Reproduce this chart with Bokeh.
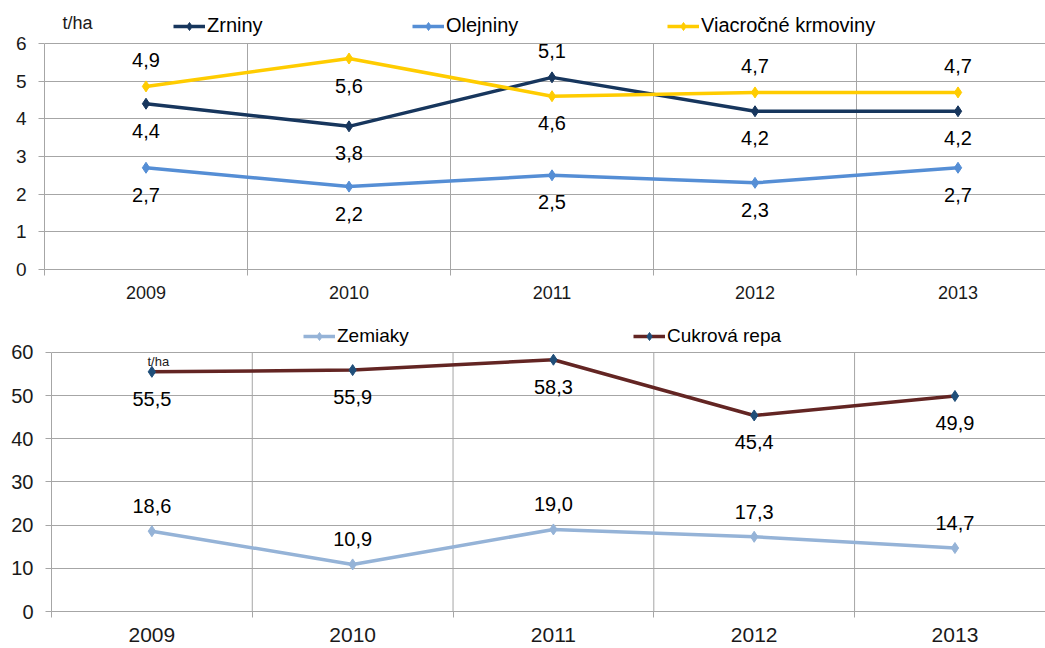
from bokeh.plotting import figure
from bokeh.layouts import column
from bokeh.models import ColumnDataSource, FixedTicker, Legend, LegendItem, Label
from bokeh.core.properties import value
from bokeh.embed import file_html
from bokeh.resources import INLINE

# ---------------- data ----------------
years = ["2009", "2010", "2011", "2012", "2013"]

zrniny = [4.4, 3.8, 5.1, 4.2, 4.2]
olejniny = [2.7, 2.2, 2.5, 2.3, 2.7]
krmoviny = [4.86, 5.6, 4.6, 4.7, 4.7]

zemiaky = [18.6, 10.9, 19.0, 17.3, 14.7]
repa = [55.5, 55.9, 58.3, 45.4, 49.9]

top_ticks = [0, 1, 2, 3, 4, 5, 6]
bottom_ticks = [0, 10, 20, 30, 40, 50, 60]

# label placement (above / below the point)
zrniny_pos = ["below", "below", "above", "below", "below"]
olejniny_pos = ["below"] * 5
krmoviny_pos = ["above", "below", "below", "above", "above"]
zemiaky_pos = ["above"] * 5
repa_pos = ["below"] * 5

FONT = "Liberation Sans"
GRID = "#A6A6A6"
xs = list(range(len(years)))


def fmt(v):
    return f"{v:.1f}".replace(".", ",")


def style(p, yticks, ylabel_size, xlabel_size, x_standoff):
    p.outline_line_color = None
    p.background_fill_color = "white"
    p.border_fill_color = "white"
    xt = FixedTicker(ticks=xs, minor_ticks=[i - 0.5 for i in range(len(years) + 1)])
    p.xaxis.ticker = xt
    p.xaxis.major_label_overrides = {i: y for i, y in enumerate(years)}
    p.xaxis.major_tick_out = 0
    p.xaxis.major_tick_in = 0
    p.xaxis.minor_tick_out = 6
    p.xaxis.minor_tick_in = 0
    p.xaxis.minor_tick_line_color = GRID
    p.xaxis.axis_line_color = GRID
    p.xaxis.major_label_standoff = x_standoff
    p.xaxis.major_label_text_font = FONT
    p.xaxis.major_label_text_font_size = f"{xlabel_size}px"
    p.xaxis.major_label_text_color = "#1a1a1a"

    p.yaxis.ticker = FixedTicker(ticks=yticks, minor_ticks=[])
    p.yaxis.bounds = (yticks[0], yticks[-1])
    p.yaxis.major_tick_out = 6
    p.yaxis.major_tick_in = 0
    p.yaxis.major_tick_line_color = GRID
    p.yaxis.axis_line_color = GRID
    p.yaxis.major_label_standoff = 12
    p.yaxis.major_label_text_font = FONT
    p.yaxis.major_label_text_font_size = f"{ylabel_size}px"
    p.yaxis.major_label_text_color = "#1a1a1a"

    p.xgrid.grid_line_color = None
    p.ygrid.grid_line_color = GRID
    # vertical category separators, limited to the value axis extent
    bnd = [i + 0.5 for i in range(len(years) - 1)]
    p.segment(x0=bnd, x1=bnd, y0=[yticks[0]] * len(bnd), y1=[yticks[-1]] * len(bnd),
              line_color=GRID, line_width=1)


def series(p, vals, pos, line_color, marker_color, size, font_size, up, down):
    src = ColumnDataSource(dict(
        x=xs, y=vals, t=[fmt(v) for v in vals],
        off=[up if s == "above" else down for s in pos],
    ))
    lr = p.line("x", "y", source=src, line_color=line_color, line_width=3.5)
    sr = p.scatter("x", "y", source=src, marker="diamond", size=size,
                   fill_color=marker_color, line_color=marker_color)
    p.text("x", "y", text="t", source=src, y_offset="off",
           text_align="center", text_baseline="middle",
           text_font=value(FONT), text_font_size=f"{font_size}px", text_color="#000000")
    return [lr, sr]


def add_legend(p, label, renderers, x, y, font_size):
    lg = Legend(items=[LegendItem(label=label, renderers=renderers)],
                location=(x, y), orientation="horizontal",
                padding=0, margin=0, spacing=0,
                glyph_width=32, glyph_height=20, label_height=20,
                label_standoff=2, border_line_color=None,
                background_fill_alpha=0,
                label_text_font=FONT, label_text_font_size=f"{font_size}px",
                label_text_color="#000000")
    p.add_layout(lg, "center")


# ---------------- top chart ----------------
p1 = figure(width=1045, height=310, x_range=(-0.5, 4.431), y_range=(0, 7.14),
            output_backend="svg", toolbar_location=None, frame_align=False,
            min_border_left=44, min_border_right=0, min_border_top=0, min_border_bottom=41)
style(p1, top_ticks, 19, 18, 10)

r_z = series(p1, zrniny, zrniny_pos, "#17365D", "#17365D", 11, 20, -26, 27)
r_o = series(p1, olejniny, olejniny_pos, "#558ED5", "#558ED5", 11, 20, -26, 27)
r_k = series(p1, krmoviny, krmoviny_pos, "#FFCC00", "#FFCC00", 11, 20, -26, 27)

add_legend(p1, "Zrniny", r_z, 129, 232, 20)
add_legend(p1, "Olejniny", r_o, 368, 232, 20)
add_legend(p1, "Viacročné krmoviny", r_k, 623, 232, 20)

p1.add_layout(Label(x=18, y=247, x_units="screen", y_units="screen", text="t/ha",
                    text_font=FONT, text_font_size="18px", text_color="#1a1a1a",
                    text_baseline="middle"))

# ---------------- bottom chart ----------------
p2 = figure(width=1045, height=335, x_range=(-0.5, 4.451), y_range=(0, 69.7),
            output_backend="svg", toolbar_location=None, frame_align=False,
            min_border_left=51, min_border_right=0, min_border_top=0, min_border_bottom=34)
style(p2, bottom_ticks, 20, 21, 10)

r_zem = series(p2, zemiaky, zemiaky_pos, "#95B3D7", "#95B3D7", 11, 20, -25, 27)
r_rep = series(p2, repa, repa_pos, "#632523", "#1F4E79", 11, 20, -25, 27)

add_legend(p2, "Zemiaky", r_zem, 252, 264, 19)
add_legend(p2, "Cukrová repa", r_rep, 582, 264, 19)

p2.add_layout(Label(x=96, y=250, x_units="screen", y_units="screen", text="t/ha",
                    text_font=FONT, text_font_size="13px", text_color="#1a1a1a",
                    text_baseline="middle"))

layout = column(p1, p2, spacing=0)
open("out.html", "w").write(file_html(layout, INLINE))
